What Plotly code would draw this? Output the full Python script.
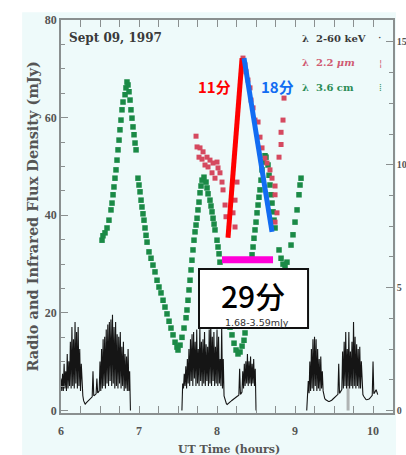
import plotly.graph_objects as go

# ---------------- data ----------------
# 3.6 cm radio (mJy, left axis)
RADIO_T = [6.526, 6.538, 6.564, 6.590, 6.615,
           6.641, 6.654, 6.667, 6.679, 6.692, 6.705, 6.718, 6.731, 6.744, 6.756, 6.769, 6.782, 6.795,
           6.821, 6.833, 6.846, 6.859, 6.872, 6.885, 6.897, 6.910, 6.923, 6.936, 6.949, 6.962,
           6.987, 7.000, 7.013, 7.026, 7.038, 7.051, 7.064, 7.077, 7.090, 7.103,
           7.128, 7.154, 7.179, 7.205, 7.231, 7.256, 7.282, 7.308, 7.333, 7.359, 7.385, 7.410,
           7.436, 7.462, 7.487, 7.500, 7.526, 7.551, 7.577, 7.603, 7.615, 7.628, 7.641,
           7.654, 7.667, 7.679, 7.692, 7.705, 7.718, 7.731, 7.744, 7.756, 7.769,
           7.782, 7.795, 7.808, 7.833, 7.859, 7.872, 7.885, 7.910, 7.923, 7.936, 7.949, 7.962, 7.974,
           8.000, 8.013, 8.026, 8.038,
           8.064, 8.077, 8.103, 8.115, 8.128, 8.141, 8.154, 8.167, 8.192, 8.218, 8.244, 8.269,
           8.295, 8.321, 8.346, 8.359, 8.372, 8.385, 8.397,
           8.449, 8.462, 8.474, 8.487, 8.500, 8.513, 8.526, 8.538, 8.551, 8.564, 8.577, 8.590,
           8.615, 8.628, 8.654, 8.667, 8.679, 8.692, 8.705, 8.718, 8.731, 8.744,
           8.795, 8.821, 8.846, 8.872, 8.897,
           8.949, 8.974, 9.000, 9.026, 9.051, 9.064, 9.077]
RADIO_F = [34.9, 35.8, 36.4, 37.4, 39.0,
           41.1, 42.5, 44.2, 45.8, 47.6, 49.3, 51.3, 53.4, 55.4, 57.5, 59.5, 61.6, 63.2,
           64.7, 66.1, 67.3, 66.7, 65.3, 63.6, 61.6, 59.9, 58.1, 56.5, 54.8, 53.4,
           47.6, 46.2, 44.8, 43.1, 41.7, 40.3, 39.0, 37.4, 35.9, 34.5,
           32.5, 31.2, 29.8, 28.4, 26.7, 25.3, 24.1, 22.6, 21.2, 19.8, 18.3, 16.9,
           15.5, 14.0, 13.0, 12.4, 13.4, 15.0, 16.9, 19.0, 20.6, 22.6, 24.7,
           26.7, 28.8, 30.8, 32.9, 34.9, 36.6, 38.0, 39.4, 41.1, 42.7,
           44.6, 46.0, 47.2, 47.8, 46.8, 45.6, 44.4, 43.1, 41.9, 40.7, 39.4, 38.2, 37.0,
           34.9, 33.5, 32.1, 30.4,
           28.4, 26.7, 24.7, 23.1, 21.6, 20.2, 18.5, 17.1, 15.5, 13.8, 12.4, 11.6,
           12.0, 13.2, 14.4, 15.9, 17.5, 19.0, 20.6,
           31.9, 33.5, 35.3, 37.0, 38.6, 40.5, 42.1, 43.7, 45.2, 47.2, 49.3, 50.9,
           52.2, 51.9, 50.3, 48.2, 46.2, 44.2, 42.5, 40.7, 39.0, 37.4,
           32.9, 31.2, 30.0, 29.4, 30.4,
           33.9, 36.0, 38.6, 41.1, 44.2, 46.2, 47.6]

# 2.2 micron infrared (mJy, left axis)
IR_T = [7.731, 7.744, 7.782, 7.821, 7.769, 7.808, 7.872, 7.910, 7.846, 7.885, 7.949, 8.000,
        8.013, 7.936, 8.038, 7.974, 8.064, 8.077, 8.103, 8.115, 8.256, 8.231, 8.205, 8.231,
        8.333, 8.359, 8.372, 8.397, 8.423, 8.436, 8.462, 8.487, 8.526, 8.551, 8.577, 8.615,
        8.641, 8.679, 8.705, 8.744, 8.744, 8.769, 8.744, 8.795, 8.821, 8.846, 8.859, 8.821]
IR_F = [56.2, 54.0, 53.8, 53.0, 51.9, 51.5, 51.9, 51.3, 50.3, 49.9, 50.7, 50.9,
        49.7, 48.7, 48.7, 47.6, 46.8, 45.2, 42.1, 39.7, 46.8, 43.1, 40.5, 37.6,
        72.2, 70.8, 69.4, 67.7, 66.1, 63.6, 62.0, 59.5, 59.1, 56.0, 53.8, 51.7,
        50.7, 49.3, 47.6, 46.0, 44.2, 40.5, 38.6, 51.9, 57.0, 59.5, 64.0, 54.5]

# 2-60 keV X-ray light curve (right axis), regular cadence
XRAY_CADENCE = 0.01
XRAY_SEG1_START = 6.00
XRAY_SEG1 = [1.3, 0.8, 1.5, 0.8, 1.9, 0.9, 1.6, 0.8, 2.3, 0.9, 2.0, 1.0, 2.8, 0.9, 3.4, 1.0,
             2.9, 0.9, 3.6, 1.1, 3.2, 0.9, 3.4, 1.0, 2.5, 0.8, 1.9, 0.8,
             0.6, 0.4, 0.28, 0.25, 0.3, 0.33, 0.37, 0.4, 0.43, 0.47, 0.5, 0.53, 0.56, 1.6,
             0.6, 0.62, 0.65, 0.68, 1.3, 0.72, 0.75, 0.8,
             2.0, 0.8, 2.5, 0.9, 2.9, 1.0, 3.0, 0.9, 3.3, 1.1, 3.5, 1.0, 3.6, 1.2, 3.7, 1.0,
             3.9, 1.1, 3.4, 0.9, 3.6, 1.0, 3.1, 0.9, 3.0, 1.1, 3.2, 0.9, 2.6, 1.0, 2.8, 0.8,
             2.3, 0.9, 2.2, 0.8, 2.5, 0.8, 1.6, 0.0]
XRAY_SEG2_START = 7.55
XRAY_SEG2 = [0.0, 1.1, 0.9, 1.5, 1.0, 1.8, 0.9, 2.1, 1.1, 2.5, 1.0, 2.9, 1.2, 3.1, 1.0, 3.2,
             1.3, 2.8, 1.0, 3.3, 1.1, 2.5, 1.0, 3.4, 1.2, 2.8, 1.0, 2.9, 1.1, 3.2, 1.0, 2.7,
             1.2, 2.6, 1.0, 3.3, 1.1, 3.6, 1.0, 3.0, 1.2, 3.2, 1.0, 2.6, 1.1, 3.3, 1.0, 3.0,
             1.1, 2.1, 1.0, 3.4, 0.9, 2.1,
             0.6, 0.45, 0.35, 0.28, 0.25, 0.27, 0.3, 0.32, 0.35, 0.38, 0.41, 0.44, 0.47, 0.5,
             0.52, 0.54, 0.56, 0.58, 0.6, 0.63, 1.7, 0.66, 0.7, 0.75,
             1.6, 0.9, 1.9, 1.0, 2.0, 1.1, 2.3, 1.0, 2.0, 1.1, 2.2, 1.0, 1.9, 1.1, 2.1, 1.0,
             1.7, 0.0]
XRAY_SEG3_START = 9.15
XRAY_SEG3 = [0.0, 0.8, 1.2, 0.7, 2.0, 0.8, 2.5, 0.9, 2.9, 0.8, 3.0, 1.0, 2.9, 0.8, 2.5, 0.9,
             2.1, 0.8, 2.2, 0.9, 1.6, 0.8,
             0.6, 0.5, 0.45, 0.42, 0.4, 0.38, 0.37, 0.37, 0.38, 0.4, 0.42, 0.45, 0.48, 0.5,
             0.53, 0.56, 0.6, 0.63, 0.66, 1.9, 0.7, 0.75, 0.8, 0.85,
             2.4, 0.9, 2.8, 1.0, 3.2, 0.9, 2.5, 1.0, 3.2, 0.9, 2.4, 1.0, 2.8, 0.9, 3.6, 1.0,
             3.0, 0.9, 2.7, 1.0, 2.5, 0.9, 2.6, 0.9, 2.0,
             0.8, 0.65, 0.58, 0.52, 0.48, 0.45, 0.44, 0.44, 0.45, 0.47, 0.5, 0.53, 0.57, 0.62,
             2.0, 0.68, 0.73, 0.78, 0.85, 0.75, 0.65]
XRAY_GAP_MARK_T = [9.68, 9.68]
XRAY_GAP_MARK_V = [0.0, 1.4]

# annotation values
RISE_LINE_T = [8.141, 8.321]
RISE_LINE_F = [35.4, 72.2]
DECAY_LINE_T = [8.346, 8.705]
DECAY_LINE_F = [72.2, 36.6]
PERIOD_BAR_T = [8.064, 8.718]
PERIOD_BAR_F = [30.9, 30.9]

X_TICKS = [6, 7, 8, 9, 10]
Y_TICKS = [0, 20, 40, 60, 80]
Y2_TICKS = [0, 5, 10, 15]

# ---------------- figure ----------------
fig = go.Figure()

xt = []
xv = []
for start, seg in [(XRAY_SEG1_START, XRAY_SEG1), (XRAY_SEG2_START, XRAY_SEG2),
                   (XRAY_SEG3_START, XRAY_SEG3)]:
    xt += [round(start + i * XRAY_CADENCE, 4) for i in range(len(seg))] + [None]
    xv += list(seg) + [None]

fig.add_trace(go.Scatter(x=XRAY_GAP_MARK_T, y=XRAY_GAP_MARK_V, yaxis="y2", mode="lines",
                         line=dict(color="#b0b4b4", width=3), hoverinfo="skip"))
fig.add_trace(go.Scatter(x=xt, y=xv, yaxis="y2", mode="lines",
                         line=dict(color="#151515", width=1.1), hoverinfo="skip"))
fig.add_trace(go.Scatter(x=RADIO_T, y=RADIO_F, mode="markers",
                         marker=dict(symbol="square", size=5.5, color="#1a8a46"), hoverinfo="skip"))
fig.add_trace(go.Scatter(x=IR_T, y=IR_F, mode="markers",
                         marker=dict(symbol="square", size=5, color="#d5495f"), hoverinfo="skip"))
fig.add_trace(go.Scatter(x=RISE_LINE_T, y=RISE_LINE_F, mode="lines",
                         line=dict(color="#ff0000", width=5), hoverinfo="skip"))
fig.add_trace(go.Scatter(x=DECAY_LINE_T, y=DECAY_LINE_F, mode="lines",
                         line=dict(color="#126cf2", width=5), hoverinfo="skip"))
fig.add_trace(go.Scatter(x=PERIOD_BAR_T, y=PERIOD_BAR_F, mode="lines",
                         line=dict(color="#ff00d8", width=7), hoverinfo="skip"))

axis_col = "#8a8f8f"
tickfont = dict(family="Liberation Serif", size=12, color="#555", weight="bold")
tickfont_r = dict(family="Liberation Serif", size=10, color="#555", weight="bold")

fig.update_layout(
    width=406, height=455,
    margin=dict(l=61, r=13, t=20, b=42),
    paper_bgcolor="white",
    plot_bgcolor="rgba(0,0,0,0)",
    showlegend=False,
    xaxis=dict(range=[6.0, 10.256], tickvals=X_TICKS, ticks="inside", ticklen=7,
               tickcolor=axis_col, tickwidth=1.2, showline=True, linecolor=axis_col, linewidth=1.5,
               mirror="allticks", showgrid=False, zeroline=False, tickfont=tickfont,
               automargin=False, ticklabelstandoff=6,
               minor=dict(dtick=0.25, ticks="inside", ticklen=4, tickcolor=axis_col, showgrid=False)),
    yaxis=dict(range=[-0.5, 80], tickvals=Y_TICKS, ticks="inside", ticklen=7,
               tickcolor=axis_col, tickwidth=1.2, showline=True, linecolor=axis_col, linewidth=1.5,
               showgrid=False, zeroline=False, tickfont=tickfont, automargin=False,
               minor=dict(dtick=5, ticks="inside", ticklen=4, tickcolor=axis_col, showgrid=False)),
    yaxis2=dict(range=[-0.1, 15.89], tickvals=Y2_TICKS, overlaying="y", side="right",
                ticks="inside", ticklen=7, tickcolor=axis_col, tickwidth=1.2, showline=True,
                linecolor=axis_col, linewidth=1.5, showgrid=False, zeroline=False,
                tickfont=tickfont_r, automargin=False,
                minor=dict(dtick=1.25, ticks="inside", ticklen=4, tickcolor=axis_col, showgrid=False)),
)

# scanned-page background
fig.add_shape(type="rect", xref="paper", yref="paper", x0=-0.117, x1=1.009, y0=-0.11, y1=1.02,
              fillcolor="#eefafa", line_width=0, layer="below")
# result box
fig.add_shape(type="rect", xref="x", yref="y", x0=7.769, x1=9.167, y0=16.9, y1=29.0,
              fillcolor="white", line=dict(color="#111", width=2), layer="above")

serif = "DejaVu Serif"
cjk = "Noto Sans CJK SC"
ann = [
    dict(x=6.077, y=76.3, text="Sept 09, 1997", xanchor="left",
         font=dict(family=serif, size=12, color="#3a3a3a", weight="bold")),
    dict(x=9.064, y=76.3, text="λ  2-60 keV", xanchor="left",
         font=dict(family=serif, size=10, color="#3a3a3a", weight="bold")),
    dict(x=9.064, y=71.2, text="λ  2.2 <i>μm</i>", xanchor="left",
         font=dict(family=serif, size=10, color="#d05a72", weight="bold")),
    dict(x=9.064, y=66.1, text="λ  3.6 cm", xanchor="left",
         font=dict(family=serif, size=10, color="#2a8c55", weight="bold")),
    dict(x=10.09, y=76.3, text="·", font=dict(family=serif, size=11, color="#444")),
    dict(x=10.09, y=71.2, text="¦", font=dict(family=serif, size=10, color="#d05a72")),
    dict(x=10.09, y=66.1, text="⁞", font=dict(family=serif, size=10, color="#2a8c55")),
    dict(x=7.974, y=66.4, text="<b>11分</b>", font=dict(family=cjk, size=15, color="#ff0000")),
    dict(x=8.769, y=66.4, text="<b>18分</b>", font=dict(family=cjk, size=15, color="#126cf2")),
    dict(x=8.462, y=23.7, text="29分", font=dict(family=cjk, size=30, color="#000", weight=500)),
    dict(x=8.513, y=17.95, text="1.68-3.59mJy", font=dict(family="DejaVu Sans", size=9.5, color="#333")),
]
for a in ann:
    a.setdefault("xanchor", "center")
    a.update(xref="x", yref="y", showarrow=False, yanchor="middle")
    fig.add_annotation(**a)

fig.add_annotation(xref="paper", yref="paper", x=-0.087, y=0.5, textangle=-90,
                   xanchor="center", yanchor="middle",
                   text="Radio and Infrared Flux Density (mJy)", showarrow=False,
                   font=dict(family=serif, size=14.5, color="#555", weight="bold"))
fig.add_annotation(xref="paper", yref="paper", x=0.506, y=-0.094,
                   xanchor="center", yanchor="middle",
                   text="UT Time (hours)", showarrow=False,
                   font=dict(family=serif, size=11, color="#555", weight="bold"))

fig.write_html("out.html", post_script="document.body.style.margin='0px';",
               config={"displayModeBar": False})
